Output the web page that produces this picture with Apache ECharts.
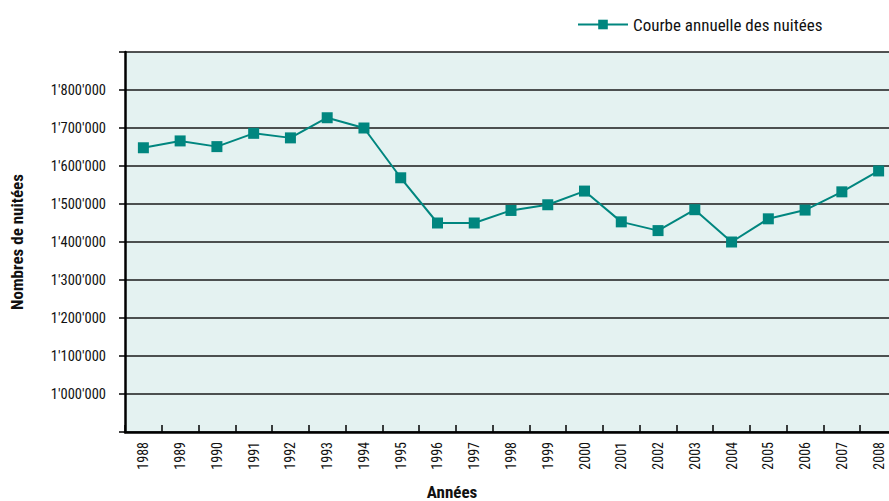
<!DOCTYPE html>
<html>
<head>
<meta charset="utf-8">
<script src="https://cdn.jsdelivr.net/npm/echarts@6/dist/echarts.min.js"></script>
<style>
html,body{margin:0;padding:0;background:#fff;overflow:hidden;width:889px;height:501px;}
#c{width:897px;height:501px;}
</style>
</head>
<body>
<div id="c"></div>
<script>
const years = ['1988','1989','1990','1991','1992','1993','1994','1995','1996','1997','1998','1999','2000','2001','2002','2003','2004','2005','2006','2007','2008'];
const nuitees = [1648000,1666000,1651000,1686000,1674000,1727000,1700000,1569000,1450000,1450000,1483000,1498000,1534000,1453000,1430000,1485000,1400000,1461000,1484000,1532000,1587000];
const seriesName = 'Courbe annuelle des nuitées';
const yTitle = 'Nombres de nuitées';
const xTitle = 'Années';

const FONT = '"Roboto Condensed","DejaVu Sans Condensed",sans-serif';
const TEAL = '#00867f';

function fmt(v){
  if (v <= 900000 || v >= 1900000) return '';
  const s = String(Math.round(v));
  return s.replace(/\B(?=(\d{3})+(?!\d))/g, "'");
}

const chart = echarts.init(document.getElementById('c'), null, {renderer:'svg'});
chart.setOption({
  animation:false,
  backgroundColor:'#ffffff',
  textStyle:{fontFamily:FONT},
  title:{
    text:xTitle,
    left:447, top:478,
    textAlign:'center',
    textStyle:{fontFamily:FONT,fontSize:17,fontWeight:'bold',color:'#111'}
  },
  legend:{
    data:[seriesName],
    left:572, top:11,
    itemWidth:50, itemHeight:12, itemGap:6,
    textStyle:{fontFamily:FONT,fontSize:17,color:'#111'}
  },
  grid:{
    left:124, right:0, top:52, height:380,
    show:true, backgroundColor:'#e4f2f1', borderWidth:0
  },
  xAxis:{
    type:'category',
    data:years,
    boundaryGap:true,
    axisLine:{show:true,lineStyle:{color:'#000',width:2.5}},
    axisTick:{show:true,inside:true,length:7,lineStyle:{color:'#000',width:1.5}},
    axisLabel:{rotate:90,margin:10,fontFamily:FONT,fontSize:14,color:'#111',interval:0},
    splitLine:{show:false}
  },
  yAxis:{
    type:'value',
    min:900000, max:1900000, interval:100000,
    name:yTitle,
    nameLocation:'middle',
    nameGap:100,
    nameTextStyle:{fontFamily:FONT,fontSize:17,fontWeight:'bold',color:'#111'},
    axisLine:{show:true,lineStyle:{color:'#000',width:2.5}},
    axisTick:{show:true,inside:false,length:6,lineStyle:{color:'#000',width:1.5}},
    axisLabel:{margin:19,fontFamily:FONT,fontSize:14.5,color:'#111',formatter:fmt},
    splitLine:{show:true,lineStyle:{color:'#1a1a1a',width:1.5}}
  },
  series:[{
    name:seriesName,
    type:'line',
    data:nuitees,
    symbol:'rect',
    symbolSize:11,
    showAllSymbol:true,
    lineStyle:{color:TEAL,width:2},
    itemStyle:{color:TEAL},
    clip:false
  }]
});
</script>
</body>
</html>
